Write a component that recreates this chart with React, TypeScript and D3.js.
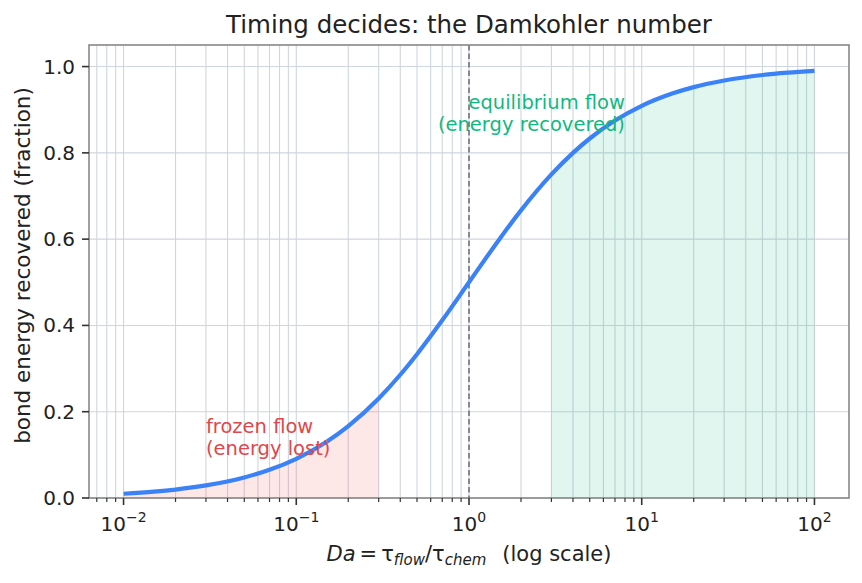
import React from "react";
import * as d3 from "d3";

const daValues = [0.01, 0.015, 0.02, 0.03, 0.05, 0.07, 0.1, 0.15, 0.2, 0.3, 0.4, 0.5, 0.7, 1, 1.5, 2, 3, 4, 5, 7, 10, 15, 20, 30, 50, 70, 100];
const recovered = [0.0099, 0.0148, 0.0196, 0.0291, 0.0476, 0.0654, 0.0909, 0.1304, 0.1667, 0.2308, 0.2857, 0.3333, 0.4118, 0.5, 0.6, 0.6667, 0.75, 0.8, 0.8333, 0.875, 0.9091, 0.9375, 0.9524, 0.9677, 0.9804, 0.9859, 0.9901];
const frozenRange = [0.01, 0.3];
const equilibriumRange = [3, 100];
const xMajorTicks = [0.01, 0.1, 1, 10, 100];
const xTickExponents = ["\u22122", "\u22121", "0", "1", "2"];
const yTicks = [0, 0.2, 0.4, 0.6, 0.8, 1.0];
const yTickLabels = ["0.0", "0.2", "0.4", "0.6", "0.8", "1.0"];
const title = "Timing decides: the Damkohler number";
const yLabel = "bond energy recovered (fraction)";
const frozenText = ["frozen flow", "(energy lost)"];
const equilText = ["equilibrium flow", "(energy recovered)"];

const W = 862, H = 583;
const L = 89, R = 849, T = 45, B = 498;
const FONT = "DejaVu Sans, Verdana, sans-serif";

export default function App() {
  const x = d3.scaleLog().domain([Math.pow(10, -2.2), Math.pow(10, 2.2)]).range([L, R]);
  const y = d3.scaleLinear().domain([0, 1.05]).range([B, T]);
  const pts = daValues.map((d, i) => ({ d, v: recovered[i] }));
  const line = d3.line<any>().x(p => x(p.d)).y(p => y(p.v)).curve(d3.curveMonotoneX);
  const area = d3.area<any>().x(p => x(p.d)).y0(y(0)).y1(p => y(p.v)).curve(d3.curveMonotoneX);
  const frozenPts = pts.filter(p => p.d >= frozenRange[0] && p.d <= frozenRange[1]);
  const eqPts = pts.filter(p => p.d >= equilibriumRange[0] && p.d <= equilibriumRange[1]);

  const minorTicks: number[] = [];
  for (let e = -3; e <= 2; e++) {
    for (let k = 2; k <= 9; k++) {
      const v = k * Math.pow(10, e);
      if (x(v) >= L && x(v) <= R) minorTicks.push(v);
    }
  }
  const gridColor = "#cfd6df";

  return (
    <svg width={W} height={H} style={{ position: "absolute", left: 0, top: 0, background: "#fff" }} fontFamily={FONT}>
      <rect x={0} y={0} width={W} height={H} fill="#fff" />
      {/* grid */}
      {minorTicks.map((v, i) => (
        <line key={"mg" + i} x1={x(v)} x2={x(v)} y1={T} y2={B} stroke={gridColor} strokeWidth={1.1} />
      ))}
      {xMajorTicks.map((v, i) => (
        <line key={"Mg" + i} x1={x(v)} x2={x(v)} y1={T} y2={B} stroke={gridColor} strokeWidth={1.1} />
      ))}
      {yTicks.map((v, i) => (
        <line key={"yg" + i} x1={L} x2={R} y1={y(v)} y2={y(v)} stroke={gridColor} strokeWidth={1.1} />
      ))}
      {/* fills */}
      <path d={area(frozenPts) || ""} fill="#ef4444" fillOpacity={0.13} />
      <path d={area(eqPts) || ""} fill="#10b981" fillOpacity={0.13} />
      {/* Da = 1 */}
      <line x1={x(1)} x2={x(1)} y1={T} y2={B} stroke="#6b7280" strokeWidth={1.6} strokeDasharray="5.5,3" />
      {/* curve */}
      <path d={line(pts) || ""} fill="none" stroke="#3b82f6" strokeWidth={4.2} />
      {/* annotations */}
      <text x={x(0.03)} y={y(0.1) - 22} fill="#e0474c" fontSize={19.5}>{frozenText[0]}</text>
      <text x={x(0.03)} y={y(0.1)} fill="#e0474c" fontSize={19.5}>{frozenText[1]}</text>
      <text x={x(8)} y={y(0.85) - 22} fill="#10b981" fontSize={19.5} textAnchor="end">{equilText[0]}</text>
      <text x={x(8)} y={y(0.85)} fill="#10b981" fontSize={19.5} textAnchor="end">{equilText[1]}</text>
      {/* spines */}
      <rect x={L} y={T} width={R - L} height={B - T} fill="none" stroke="#888" strokeWidth={1.6} />
      {/* x ticks */}
      {minorTicks.map((v, i) => (
        <line key={"mt" + i} x1={x(v)} x2={x(v)} y1={B} y2={B + 4} stroke="#333" strokeWidth={1.2} />
      ))}
      {xMajorTicks.map((v, i) => (
        <g key={"xt" + i}>
          <line x1={x(v)} x2={x(v)} y1={B} y2={B + 7} stroke="#333" strokeWidth={1.6} />
          <text x={x(v)} y={531} fontSize={20} fill="#222" textAnchor="middle">
            10<tspan fontSize={14} dy={-9}>{xTickExponents[i]}</tspan>
          </text>
        </g>
      ))}
      {/* y ticks */}
      {yTicks.map((v, i) => (
        <g key={"yt" + i}>
          <line x1={L - 7} x2={L} y1={y(v)} y2={y(v)} stroke="#333" strokeWidth={1.6} />
          <text x={L - 14} y={y(v) + 7} fontSize={20} fill="#222" textAnchor="end">{yTickLabels[i]}</text>
        </g>
      ))}
      {/* labels */}
      <text x={(L + R) / 2} y={33} fontSize={24.5} fill="#222" textAnchor="middle">{title}</text>
      <text transform={`translate(30,${(T + B) / 2 - 6}) rotate(-90)`} fontSize={21.5} fill="#222" textAnchor="middle">{yLabel}</text>
      <text x={(L + R) / 2} y={561} fontSize={21} fill="#222" textAnchor="middle">
        <tspan fontStyle="italic">Da</tspan>
        <tspan dx={4}>=</tspan>
        <tspan dx={4}>τ</tspan>
        <tspan fontStyle="italic" fontSize={15} dy={4}>flow</tspan>
        <tspan dy={-4}>/τ</tspan>
        <tspan fontStyle="italic" fontSize={15} dy={4}>chem</tspan>
        <tspan dy={-4} dx={16}>(log scale)</tspan>
      </text>
    </svg>
  );
}
